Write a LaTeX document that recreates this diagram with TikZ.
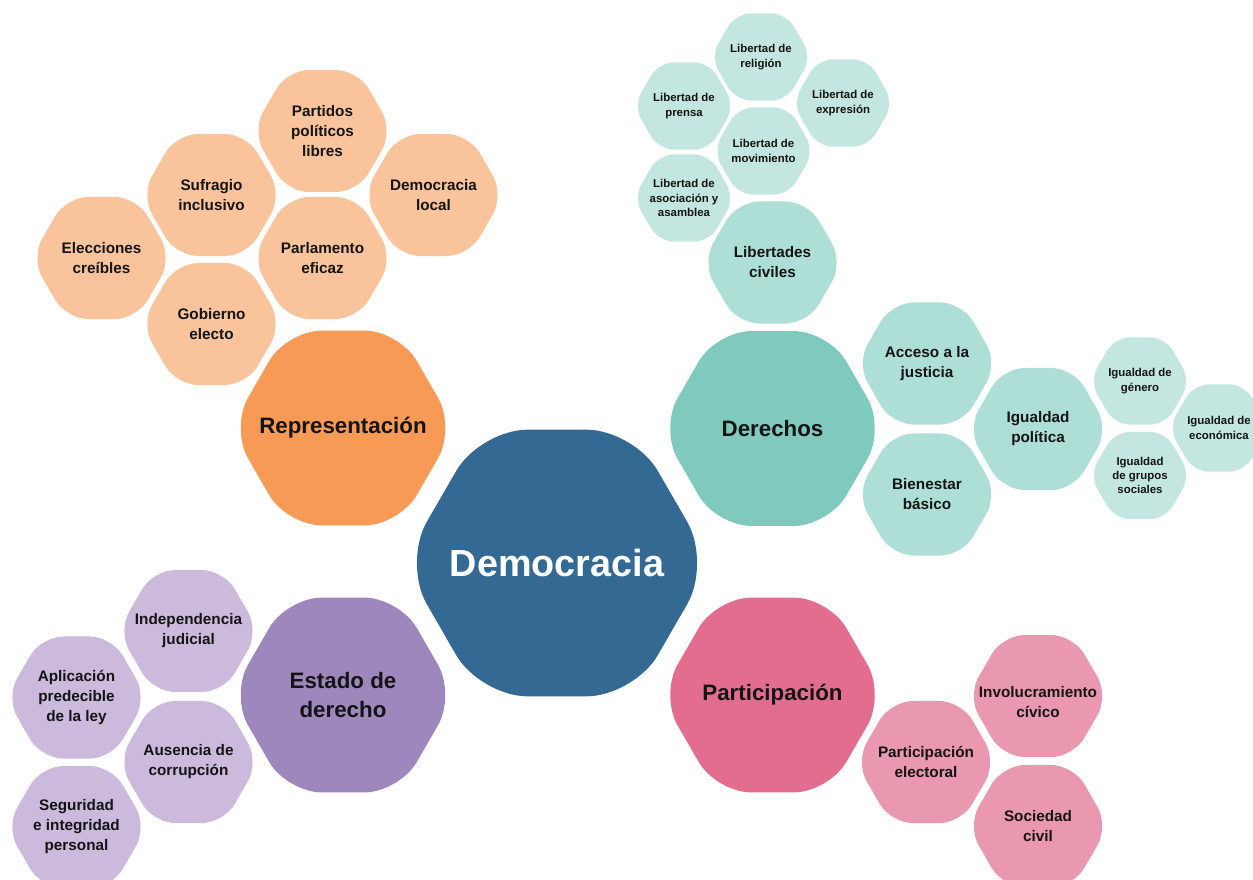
\documentclass[tikz,border=0pt]{standalone}
\usepackage{fontspec}
\setmainfont{Liberation Sans}
\usetikzlibrary{shapes.geometric}

\definecolor{demoblue}{RGB}{51,105,147}
\definecolor{repdark}{RGB}{247,154,86}
\definecolor{replight}{RGB}{249,196,156}
\definecolor{derdark}{RGB}{127,202,189}
\definecolor{dermid}{RGB}{173,223,215}
\definecolor{derlight}{RGB}{196,230,224}
\definecolor{estdark}{RGB}{158,135,189}
\definecolor{estlight}{RGB}{203,186,220}
\definecolor{pardark}{RGB}{226,109,142}
\definecolor{parlight}{RGB}{234,152,175}

\tikzset{
	hexa/.style={regular polygon, regular polygon sides=6, inner sep=-12pt, align=center, text=black!92},
	hexcentral/.style={hexa, minimum size=6.16cm, rounded corners=0.95cm, font=\bfseries\fontsize{21.5}{26}\selectfont, text=white},
	hexbig/.style={hexa, minimum size=4.5cm, rounded corners=0.7cm, font=\bfseries\fontsize{12.7}{16}\selectfont},
	hexmid/.style={hexa, minimum size=2.82cm, rounded corners=0.44cm, font=\bfseries\fontsize{8.7}{11.4}\selectfont},
	hexsmall/.style={hexa, minimum size=2.02cm, rounded corners=0.31cm, font=\bfseries\fontsize{6.5}{8.2}\selectfont}
}

\begin{document}
\begin{tikzpicture}[x=0.02cm, y=-0.02cm]
			%%%%% START %%%%%
			\clip (0, 0) rectangle (1253, 879);
			
			\node[hexcentral, fill=demoblue] (demo) at (557, 563) {Democracia};
			
			\node[hexbig, fill=repdark] (rep) at (343, 428) {Representación};
			\node[hexbig, fill=derdark] (der) at (772.5, 428.5) {Derechos};
			\node[hexbig, fill=estdark] (est) at (343, 695) {Estado de\\derecho};
			\node[hexbig, fill=pardark] (par) at (772.5, 695) {Participación};
			
			%% representacion
			\node[hexmid, fill=replight] (partidos) at (322.5, 131) {Partidos\\políticos\\libres};
			\node[hexmid, fill=replight] (sufragio) at (211.5, 195) {Sufragio\\inclusivo};
			\node[hexmid, fill=replight] (demlocal) at (433.5, 195) {Democracia\\local};
			\node[hexmid, fill=replight] (elecciones) at (101.5, 258) {Elecciones\\creíbles};
			\node[hexmid, fill=replight] (parlamento) at (322.5, 258) {Parlamento\\eficaz};
			\node[hexmid, fill=replight] (gobierno) at (211.5, 324) {Gobierno\\electo};
			
			%% estado de derecho
			\node[hexmid, fill=estlight] (indep) at (188.5, 631) {Independencia\\judicial};
			\node[hexmid, fill=estlight] (aplic) at (76.5, 697.5) {Aplicación\\predecible\\de la ley};
			\node[hexmid, fill=estlight] (ausencia) at (188.5, 762) {Ausencia de\\corrupción};
			\node[hexmid, fill=estlight] (seguridad) at (76.5, 827) {Seguridad\\e integridad\\personal};
			
			%% participacion
			\node[hexmid, fill=parlight] (involuc) at (1038, 696) {\raisebox{-4.5pt}[\height][\depth]{\begin{tabular}{@{}c@{}}Involucramiento\\cívico\end{tabular}}};
			\node[hexmid, fill=parlight] (partelec) at (926, 762) {Participación\\electoral};
			\node[hexmid, fill=parlight] (sociedad) at (1038, 826) {Sociedad\\civil};
			
			%% derechos
			\node[hexmid, fill=dermid] (libciv) at (772.5, 262.5) {Libertades\\civiles};
			\node[hexmid, fill=dermid] (acceso) at (927, 363.5) {Acceso a la\\justicia};
			\node[hexmid, fill=dermid] (bienestar) at (927, 494.5) {Bienestar\\básico};
			\node[hexmid, fill=dermid] (igualpol) at (1038, 429) {Igualdad\\política};
			
			\node[hexsmall, fill=derlight] (religion) at (761, 57) {Libertad de\\religión};
			\node[hexsmall, fill=derlight] (prensa) at (684, 106) {Libertad de\\prensa};
			\node[hexsmall, fill=derlight] (expresion) at (843, 103) {Libertad de\\expresión};
			\node[hexsmall, fill=derlight] (movimiento) at (763.5, 151) {Libertad de\\movimiento};
			\node[hexsmall, fill=derlight] (asociacion) at (684, 198) {Libertad de\\asociación y\\asamblea};
			
			\node[hexsmall, fill=derlight] (genero) at (1140, 381) {Igualdad de\\género};
			\node[hexsmall, fill=derlight] (grupos) at (1140, 475.5) {Igualdad\\de grupos\\sociales};
			\node[hexsmall, fill=derlight] (economica) at (1219, 428) {Igualdad de\\económica};
			%%%%% END %%%%%
\end{tikzpicture}
\end{document}
